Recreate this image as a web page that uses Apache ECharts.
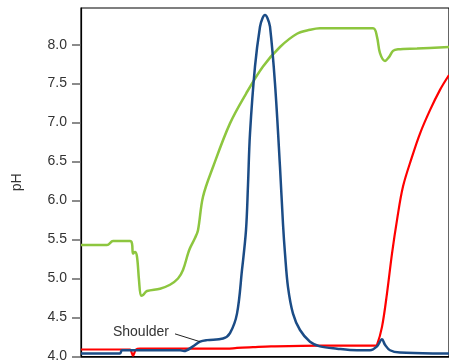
<!DOCTYPE html>
<html>
<head>
<meta charset="utf-8">
<script src="https://cdn.jsdelivr.net/npm/echarts@6/dist/echarts.min.js"></script>
<style>
  html, body { margin: 0; padding: 0; background: #fff; }
  #chart { width: 449px; height: 364px; }
</style>
</head>
<body>
<div id="chart"></div>
<script>
// x in arbitrary run units, y in pH
const greenX = [0, 26, 32, 49, 51, 52, 54, 56, 58, 60, 62, 66, 79, 89, 97, 102, 107, 109, 114, 117, 122, 132, 149, 165, 182, 199, 216, 229, 239, 292, 296, 299, 304, 308, 312, 317, 336, 368];
const greenY = [5.43, 5.43, 5.48, 5.48, 5.45, 5.32, 5.34, 5.28, 4.98, 4.78, 4.79, 4.84, 4.87, 4.92, 5.0, 5.11, 5.32, 5.39, 5.52, 5.62, 6.05, 6.43, 6.99, 7.37, 7.72, 7.97, 8.14, 8.19, 8.21, 8.21, 8.10, 7.89, 7.79, 7.84, 7.92, 7.94, 7.95, 7.97];

const blueX = [0, 39, 41, 59, 99, 103, 112, 119, 126, 142, 149, 156, 161, 165, 167, 169, 174, 179, 181.5, 184, 186.5, 189, 194, 199, 202, 204, 207, 212, 219, 229, 239, 256, 276, 289, 296, 301, 304, 309, 319, 352, 368];
const blueY = [4.04, 4.04, 4.08, 4.08, 4.08, 4.07, 4.13, 4.19, 4.21, 4.23, 4.30, 4.55, 5.11, 5.62, 6.2, 6.86, 7.72, 8.23, 8.34, 8.38, 8.34, 8.23, 7.50, 6.43, 5.70, 5.32, 4.89, 4.55, 4.34, 4.19, 4.13, 4.10, 4.08, 4.08, 4.13, 4.22, 4.15, 4.08, 4.05, 4.04, 4.04];

const redX = [0, 46, 49, 52, 55, 59, 92, 146, 156, 172, 190, 240, 294, 296, 301, 306, 311, 316, 322, 331, 339, 349, 359, 368];
const redY = [4.09, 4.09, 4.09, 4.01, 4.09, 4.10, 4.10, 4.10, 4.11, 4.12, 4.13, 4.14, 4.14, 4.15, 4.38, 4.81, 5.32, 5.75, 6.18, 6.56, 6.86, 7.16, 7.42, 7.61];

const yTicks = [4.0, 4.5, 5.0, 5.5, 6.0, 6.5, 7.0, 7.5, 8.0];
const shoulderFrom = [94, 4.29];
const shoulderTo = [119, 4.19];

const pairs = (xs, ys) => xs.map((x, i) => [x, ys[i]]);

const chart = echarts.init(document.getElementById("chart"));
chart.setOption({
  animation: false,
  grid: {
    left: 81, right: -1, top: 8, bottom: 7.5,
    show: true, borderColor: "#000", borderWidth: 1.2,
  },
  xAxis: {
    type: "value",
    min: 0,
    max: 368,
    axisLine: { show: true, onZero: false, lineStyle: { color: "#000", width: 1.5 } },
    axisTick: { show: false },
    axisLabel: { show: false },
    splitLine: { show: false },
  },
  yAxis: {
    type: "value",
    min: 4,
    max: 8.47,
    interval: 0.5,
    name: "pH",
    nameLocation: "middle",
    nameGap: 57,
    nameTextStyle: { fontFamily: "Liberation Sans", fontSize: 14, color: "#333" },
    axisLine: { show: true, lineStyle: { color: "#000", width: 1.2 } },
    axisTick: { show: true, length: 9, lineStyle: { color: "#666", width: 1.5 } },
    axisLabel: {
      showMaxLabel: false,
      margin: 14,
      fontFamily: "Liberation Sans",
      fontSize: 14,
      color: "#333",
      formatter: (v) => (yTicks.includes(v) ? v.toFixed(1) : ""),
    },
    splitLine: { show: false },
  },
  series: [
    {
      name: "green",
      type: "line",
      data: pairs(greenX, greenY),
      smooth: 0.35,
      symbol: "none",
      lineStyle: { color: "#8dc63f", width: 2.5 },
    },
    {
      name: "red",
      type: "line",
      data: pairs(redX, redY),
      smooth: 0.35,
      symbol: "none",
      lineStyle: { color: "#ff0000", width: 2.2 },
    },
    {
      name: "blue",
      type: "line",
      data: pairs(blueX, blueY),
      smooth: 0.35,
      symbol: "none",
      lineStyle: { color: "#1b4c86", width: 2.5 },
      markLine: {
        silent: true,
        symbol: "none",
        label: { show: false },
        lineStyle: { color: "#222", width: 1, type: "solid" },
        data: [[{ coord: shoulderFrom }, { coord: shoulderTo }]],
      },
      markPoint: {
        silent: true,
        symbol: "circle",
        symbolSize: 0,
        data: [{ coord: shoulderFrom, value: "Shoulder" }],
        label: {
          show: true,
          position: "left",
          distance: 6,
          formatter: "Shoulder",
          fontFamily: "Liberation Sans",
          fontSize: 14,
          color: "#333",
          offset: [0, -2],
        },
      },
    },
  ],
});
</script>
</body>
</html>
